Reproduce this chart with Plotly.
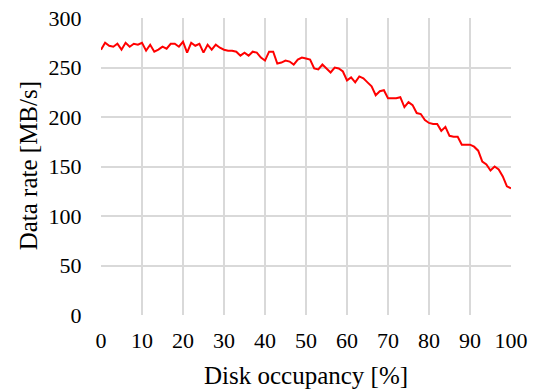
import plotly.graph_objects as go

# Disk occupancy (%) and the sequential data rate measured at each level
occupancy = list(range(0, 101))
data_rate = [
    268, 275, 272, 271, 274, 268, 275, 271, 274, 273,
    275, 267, 273, 266, 268, 271, 269, 274, 274, 271,
    276, 265, 275, 272, 274, 265, 273, 268, 273, 270,
    268, 267, 267, 266, 262, 265, 262, 266, 265, 260,
    257, 266, 266, 254, 255, 257, 256, 253, 258, 260,
    259, 258, 249, 248, 253, 249, 245, 250, 249, 246,
    237, 240, 235, 241, 239, 235, 231, 222, 226, 227,
    219, 219, 219, 220, 210, 215, 212, 204, 203, 197,
    194, 193, 193, 186, 190, 181, 180, 180, 172, 172,
    172, 170, 166, 155, 152, 146, 150, 147, 140, 130,
    128,
]

x_ticks = list(range(0, 101, 10))
y_ticks = list(range(0, 301, 50))
x_title = "Disk occupancy [%]"
y_title = "Data rate [MB/s]"

FONT = "Liberation Serif"
GRID = "#d9d9d9"

fig = go.Figure(
    go.Scatter(
        x=occupancy,
        y=data_rate,
        mode="lines",
        line=dict(color="#ff0000", width=2),
        hoverinfo="x+y",
    )
)

fig.update_layout(
    width=538,
    height=392,
    margin=dict(l=101, r=27, t=18, b=77),
    paper_bgcolor="white",
    plot_bgcolor="white",
    showlegend=False,
    font=dict(family=FONT, size=22, color="black"),
)

axis_common = dict(
    showgrid=True,
    gridcolor=GRID,
    gridwidth=1.5,
    zeroline=False,
    showline=False,
    ticks="outside",
    tickcolor="rgba(0,0,0,0)",
    tickfont=dict(family=FONT, size=22, color="black"),
    automargin=False,
)

fig.update_xaxes(range=[0, 100], tickvals=x_ticks, ticklen=6, **axis_common)
fig.update_yaxes(range=[0, 300], tickvals=y_ticks, ticklen=14, **axis_common)

# Axis titles placed as paper-anchored annotations
fig.add_annotation(
    text=x_title, xref="paper", yref="paper", x=0.5, y=-0.205,
    xanchor="center", yanchor="middle", showarrow=False,
    font=dict(family=FONT, size=25, color="black"),
)
fig.add_annotation(
    text=y_title, xref="paper", yref="paper", x=-0.177, y=0.502,
    xanchor="center", yanchor="middle", textangle=-90, showarrow=False,
    font=dict(family=FONT, size=25, color="black"),
)

fig.write_html("out.html")
